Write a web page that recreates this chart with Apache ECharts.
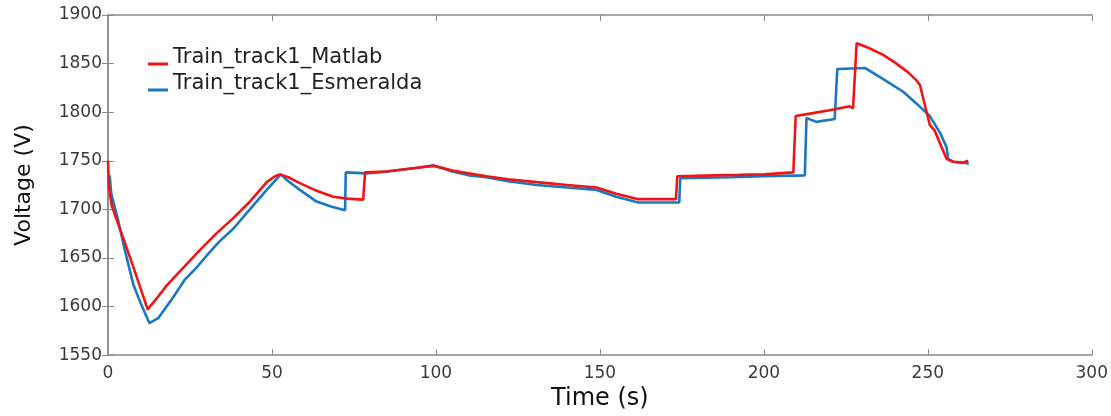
<!DOCTYPE html>
<html>
<head>
<meta charset="utf-8">
<script src="https://cdn.jsdelivr.net/npm/echarts@6/dist/echarts.min.js"></script>
<style>
html,body{margin:0;padding:0;background:#fff;}
#c{width:1111px;height:416px;}
</style>
</head>
<body>
<div id="c"></div>
<script>
const seriesNames = ['Train_track1_Matlab', 'Train_track1_Esmeralda'];

const matlabT = [0, 0.3, 1.2, 5, 8, 12.1, 15, 18, 23, 28, 33, 38.2, 43, 48.4, 50.9, 52.4, 55, 58.5, 63, 68.7, 73, 77.8, 78.4, 85, 90, 95, 99.2, 105, 110, 115.4, 122, 130.7, 140, 149, 155, 161.7, 173.2, 173.6, 185, 192.7, 200, 209, 209.7, 215, 220, 226.2, 227.2, 228.3, 232, 236.4, 240, 244, 246.5, 247.6, 250.6, 252.1, 254.7, 255.7, 257.7, 260.7, 262.3];
const matlabV = [1750, 1722, 1703, 1667, 1638, 1597, 1609, 1622, 1640, 1658, 1675, 1691, 1707, 1728, 1734, 1736, 1733, 1727, 1720, 1713, 1711, 1710, 1738, 1739, 1741, 1743, 1745, 1740, 1737, 1734, 1731, 1728, 1725, 1722.5, 1716, 1710.5, 1710.5, 1734, 1735, 1735.5, 1736, 1738, 1796, 1799, 1802, 1806, 1804, 1871, 1866, 1859, 1851, 1841, 1833, 1828, 1787, 1781, 1760, 1752, 1749, 1748, 1750];

const esmeraldaT = [0.5, 1, 3, 5, 7.7, 10, 12.6, 15.3, 20, 23.5, 27, 30, 34, 38.2, 43, 48.4, 52.7, 55, 58.5, 63.6, 68, 72.3, 72.5, 78.9, 85, 90, 95, 99.5, 105, 110, 115.4, 122, 130.7, 140, 149, 155, 161.7, 174.2, 174.5, 190, 200, 212.5, 213, 216, 221.6, 222.4, 230.8, 236.4, 242.5, 246.5, 250.6, 253.7, 255.7, 256.2, 257.7, 261.3, 262.5];
const esmeraldaV = [1735, 1716, 1690, 1660, 1623, 1603, 1583, 1588, 1610, 1628, 1640, 1652, 1667, 1680, 1699, 1720, 1736, 1729, 1720, 1708, 1703, 1699, 1738, 1737, 1739, 1741, 1743, 1745, 1739, 1735, 1733, 1729, 1725, 1722.5, 1720, 1713, 1707, 1707, 1732, 1733, 1734, 1735, 1794, 1790, 1793, 1844.5, 1845.5, 1834, 1821, 1809, 1796, 1779, 1764, 1752, 1749, 1748, 1747];

const xMin = 0, xMax = 300, xStep = 50;
const yMin = 1550, yMax = 1900, yStep = 50;

function pairs(t, v) { return t.map((x, i) => [x, v[i]]); }

const axisGray = '#8a8a8a';
const labelColor = '#3a3a3a';
const font = 'DejaVu Sans';

const chart = echarts.init(document.getElementById('c'), null, {renderer: 'canvas'});
chart.setOption({
  animation: false,
  backgroundColor: '#ffffff',
  grid: {left: 108, right: 19, top: 15, bottom: 54, containLabel: false},
  legend: {
    orient: 'vertical',
    left: 143,
    top: 42,
    itemWidth: 20,
    itemHeight: 16,
    itemGap: 5,
    icon: 'path://M0,0 L20,0 L20,0.01 L0,0.01 Z M0,13 L20,13 L20,16 L0,16 Z',
    textStyle: {fontFamily: font, fontSize: 21, color: '#222'},
    data: seriesNames
  },
  xAxis: [{
    type: 'value', min: xMin, max: xMax, interval: xStep, position: 'bottom',
    name: 'Time (s)', nameLocation: 'middle', nameGap: 29,
    nameTextStyle: {fontFamily: font, fontSize: 24, color: '#111'},
    axisLine: {show: true, lineStyle: {color: axisGray, width: 1.5}},
    axisTick: {show: true, inside: true, length: 6, lineStyle: {color: axisGray}},
    axisLabel: {fontFamily: font, fontSize: 17, color: labelColor, margin: 10},
    splitLine: {show: false}
  }, {
    type: 'value', min: xMin, max: xMax, interval: xStep, position: 'top',
    axisLine: {show: true, lineStyle: {color: axisGray, width: 1.5}},
    axisTick: {show: true, inside: true, length: 6, lineStyle: {color: axisGray}},
    axisLabel: {show: false},
    splitLine: {show: false}
  }],
  yAxis: [{
    type: 'value', min: yMin, max: yMax, interval: yStep, position: 'left',
    name: 'Voltage (V)', nameLocation: 'middle', nameGap: 73, nameRotate: 90,
    nameTextStyle: {fontFamily: font, fontSize: 22, color: '#111'},
    axisLine: {show: true, lineStyle: {color: axisGray, width: 1.5}},
    axisTick: {show: true, inside: true, length: 6, lineStyle: {color: axisGray}},
    axisLabel: {fontFamily: font, fontSize: 17, color: labelColor, margin: 6, formatter: v => String(v)},
    splitLine: {show: false}
  }, {
    type: 'value', min: yMin, max: yMax, interval: yStep, position: 'right',
    axisLine: {show: true, lineStyle: {color: axisGray, width: 1.5}},
    axisTick: {show: true, inside: true, length: 6, lineStyle: {color: axisGray}},
    axisLabel: {show: false},
    splitLine: {show: false}
  }],
  series: [{
    name: seriesNames[0], type: 'line', xAxisIndex: 0, yAxisIndex: 0,
    data: pairs(matlabT, matlabV), showSymbol: false, smooth: false,
    lineStyle: {color: '#f01414', width: 2.6}, itemStyle: {color: '#f01414'}, z: 3
  }, {
    name: seriesNames[1], type: 'line', xAxisIndex: 0, yAxisIndex: 0,
    data: pairs(esmeraldaT, esmeraldaV), showSymbol: false, smooth: false,
    lineStyle: {color: '#1a78c2', width: 2.6}, itemStyle: {color: '#1a78c2'}, z: 2
  }]
});
</script>
</body>
</html>
